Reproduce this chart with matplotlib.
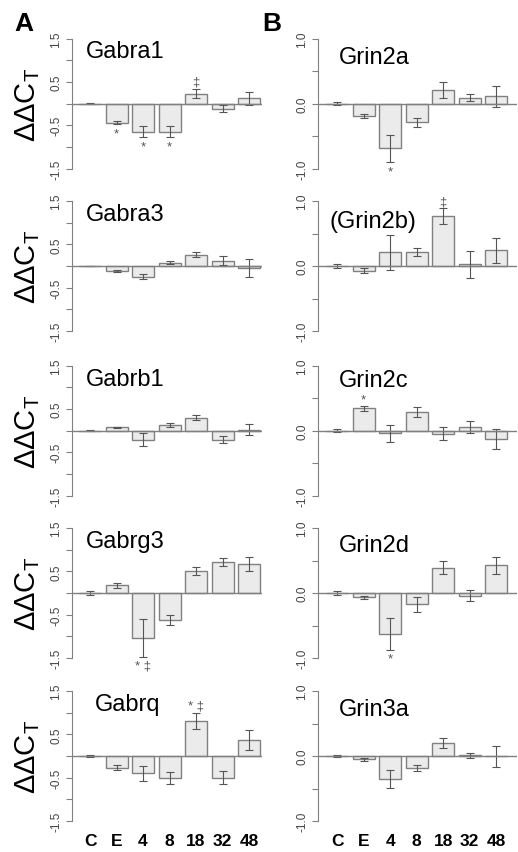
import matplotlib
matplotlib.use("Agg")
import matplotlib.pyplot as plt

# time points on the x axis
groups = ['C', 'E', '4', '8', '18', '32', '48']

# panel A: GABA-A receptor subunits (mean, error)
gabra1_mean = [0.0, -0.44, -0.65, -0.65, 0.23, -0.12, 0.12]
gabra1_err = [0.01, 0.04, 0.13, 0.13, 0.11, 0.08, 0.15]
gabra3_mean = [0.0, -0.11, -0.25, 0.08, 0.26, 0.12, -0.045]
gabra3_err = [0.01, 0.02, 0.06, 0.045, 0.06, 0.10, 0.20]
gabrb1_mean = [0.0, 0.07, -0.21, 0.13, 0.30, -0.21, 0.02]
gabrb1_err = [0.01, 0.015, 0.155, 0.05, 0.065, 0.08, 0.135]
gabrg3_mean = [0.0, 0.18, -1.04, -0.63, 0.51, 0.71, 0.66]
gabrg3_err = [0.04, 0.06, 0.43, 0.115, 0.085, 0.09, 0.16]
gabrq_mean = [0.0, -0.27, -0.40, -0.50, 0.81, -0.50, 0.375]
gabrq_err = [0.03, 0.055, 0.175, 0.135, 0.19, 0.155, 0.235]

# panel B: NMDA receptor subunits (mean, error)
grin2a_mean = [0.0, -0.19, -0.69, -0.29, 0.21, 0.09, 0.11]
grin2a_err = [0.025, 0.03, 0.21, 0.07, 0.12, 0.055, 0.16]
grin2b_mean = [0.0, -0.07, 0.21, 0.22, 0.77, 0.025, 0.24]
grin2b_err = [0.035, 0.045, 0.27, 0.06, 0.12, 0.21, 0.19]
grin2c_mean = [0.0, 0.34, -0.04, 0.28, -0.05, 0.055, -0.13]
grin2c_err = [0.03, 0.035, 0.13, 0.075, 0.10, 0.095, 0.15]
grin2d_mean = [0.0, -0.067, -0.625, -0.175, 0.385, -0.04, 0.425]
grin2d_err = [0.03, 0.02, 0.245, 0.12, 0.10, 0.085, 0.13]
grin3a_mean = [0.0, -0.05, -0.35, -0.18, 0.205, 0.01, -0.005]
grin3a_err = [0.01, 0.025, 0.14, 0.045, 0.075, 0.04, 0.16]

# significance marks: (bar index, symbol, above/below)
gabra1_marks = [(1, '*', 'below'), (2, '*', 'below'), (3, '*', 'below'), (4, '\u2021', 'above')]
gabrg3_marks = [(2, '* \u2021', 'below')]
gabrq_marks = [(4, '* \u2021', 'above')]
grin2a_marks = [(2, '*', 'below')]
grin2b_marks = [(4, '\u2021', 'above')]
grin2c_marks = [(1, '*', 'above')]
grin2d_marks = [(2, '*', 'below')]

left_panels = [
    ("Gabra1", gabra1_mean, gabra1_err, gabra1_marks),
    ("Gabra3", gabra3_mean, gabra3_err, []),
    ("Gabrb1", gabrb1_mean, gabrb1_err, []),
    ("Gabrg3", gabrg3_mean, gabrg3_err, gabrg3_marks),
    ("Gabrq", gabrq_mean, gabrq_err, gabrq_marks),
]
right_panels = [
    ("Grin2a", grin2a_mean, grin2a_err, grin2a_marks),
    ("(Grin2b)", grin2b_mean, grin2b_err, grin2b_marks),
    ("Grin2c", grin2c_mean, grin2c_err, grin2c_marks),
    ("Grin2d", grin2d_mean, grin2d_err, grin2d_marks),
    ("Grin3a", grin3a_mean, grin3a_err, []),
]
# title heights in data units for the right column
right_title_y = [0.72, 0.69, 0.77, 0.74, 0.72]

plt.rcParams['font.family'] = ['Liberation Sans', 'DejaVu Sans']
plt.rcParams['mathtext.fontset'] = 'custom'
plt.rcParams['mathtext.rm'] = 'Liberation Sans'

W, H = 518, 853
fig = plt.figure(figsize=(W / 100, H / 100), dpi=100)

row_tops = [39.5, 202, 366.5, 529, 692]
row_h = 130
GRAY = '#808080'
DARK = '#555555'


def px_axes(x0, top, w, h):
    return fig.add_axes([x0 / W, (H - top - h) / H, w / W, h / H])


def draw_panel(ax, name, mean, err, marks, lim, ticks, labels, xlim, title_xy):
    x = list(range(len(groups)))
    ax.bar(x, mean, width=0.83, color='#ebebeb', edgecolor=GRAY,
           linewidth=1, zorder=2)
    ax.errorbar(x, mean, yerr=err, fmt='none', ecolor=DARK, elinewidth=0.8,
                capsize=3, capthick=0.8, zorder=3, clip_on=False)
    ax.axhline(0, color=GRAY, lw=1, zorder=4)
    ax.set_xlim(*xlim)
    ax.set_ylim(-lim, lim)
    for s in ['top', 'right', 'bottom']:
        ax.spines[s].set_visible(False)
    ax.spines['left'].set_color(GRAY)
    ax.spines['left'].set_bounds(-lim, lim)
    ax.set_xticks([])
    ax.set_yticks(ticks)
    ax.set_yticklabels(labels, rotation=90, va='center',
                       fontsize=8.5, color='#444444')
    ax.tick_params(axis='y', length=4, width=0.8, color=GRAY, pad=3)
    ax.text(title_xy[0], title_xy[1], name, fontsize=17, va='center',
            ha='left')
    for i, sym, side in marks:
        if side == 'above':
            y0, dy = mean[i] + err[i], 7
        else:
            y0, dy = mean[i] - err[i], -9
        ax.annotate(sym, (i, y0), xytext=(0, dy * 0.72),
                    textcoords='offset points', ha='center', va='center',
                    fontsize=9.5, color=DARK, annotation_clip=False)


left_ticks = [1.5, 1.0, 0.5, 0.0, -0.5, -1.0, -1.5]
left_labels = ['1.5', '', '0.5', '', '-0.5', '', '-1.5']
right_ticks = [1.0, 0.5, 0.0, -0.5, -1.0]
right_labels = ['1.0', '', '0.0', '', '-1.0']

for r, (name, mean, err, marks) in enumerate(left_panels):
    ax = px_axes(72, row_tops[r], 190, row_h)
    tx = 0.19 if name == "Gabrq" else -0.15
    draw_panel(ax, name, mean, err, marks, 1.5, left_ticks, left_labels,
               (-0.68, 6.49), (tx, 1.2))
    fig.text(28 / W, 1 - (row_tops[r] + row_h / 2) / H,
             r'$\mathrm{\Delta\Delta C_T}$', rotation=90, fontsize=21,
             ha='center', va='center')

for r, (name, mean, err, marks) in enumerate(right_panels):
    ax = px_axes(318, row_tops[r], 199, row_h)
    tx = -0.3 if name.startswith('(') else 0.05
    draw_panel(ax, name, mean, err, marks, 1.0, right_ticks, right_labels,
               (-0.72, 6.79), (tx, right_title_y[r]))

# x labels under the bottom row
for col_x0, xl in [(72, (-0.68, 6.49)), (318, (-0.72, 6.79))]:
    for i, g in enumerate(groups):
        px = col_x0 + (i - xl[0]) * 26.5
        fig.text(px / W, 1 - 842 / H, g, ha='center', va='center',
                 fontsize=12.5, fontweight='bold')

fig.text(24 / W, 1 - 24 / H, 'A', fontsize=19, fontweight='bold',
         ha='center', va='center')
fig.text(272 / W, 1 - 24 / H, 'B', fontsize=19, fontweight='bold',
         ha='center', va='center')

fig.savefig('out.png', dpi=100)
